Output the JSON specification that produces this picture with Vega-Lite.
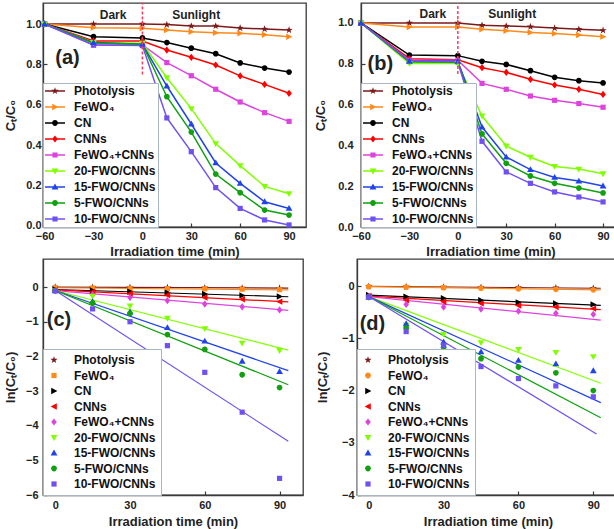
{
  "$schema": "https://vega.github.io/schema/vega-lite/v6.json",
  "padding": {"left": 3, "top": 1, "right": 0, "bottom": 0},
  "background": "white",
  "config": {
    "font": "Liberation Sans",
    "view": {"stroke": "#3a3a3a", "strokeWidth": 1.3},
    "axis": {"grid": false, "labelOverlap": false, "labelFlush": false, "labelFontSize": 11, "labelFontWeight": "bold", "labelColor": "#222", "titleFontSize": 13, "titleFontWeight": "bold", "titleColor": "#222", "domainColor": "#3a3a3a", "domainWidth": 1.3, "tickColor": "#3a3a3a", "tickSize": -4, "tickWidth": 1.2}
  },
  "datasets": {
    "a": [
      {"s":"Photolysis","t":-60,"v":1},{"s":"Photolysis","t":-30,"v":1},{"s":"Photolysis","t":0,"v":1},{"s":"Photolysis","t":15,"v":0.997},{"s":"Photolysis","t":30,"v":0.99},{"s":"Photolysis","t":45,"v":0.99},{"s":"Photolysis","t":60,"v":0.98},{"s":"Photolysis","t":75,"v":0.975},{"s":"Photolysis","t":90,"v":0.97},
      {"s":"FeWO₄","t":-60,"v":1},{"s":"FeWO₄","t":-30,"v":0.982},{"s":"FeWO₄","t":0,"v":0.979},{"s":"FeWO₄","t":15,"v":0.97},{"s":"FeWO₄","t":30,"v":0.962},{"s":"FeWO₄","t":45,"v":0.957},{"s":"FeWO₄","t":60,"v":0.954},{"s":"FeWO₄","t":75,"v":0.947},{"s":"FeWO₄","t":90,"v":0.937},
      {"s":"CN","t":-60,"v":1},{"s":"CN","t":-30,"v":0.937},{"s":"CN","t":0,"v":0.931},{"s":"CN","t":15,"v":0.908},{"s":"CN","t":30,"v":0.88},{"s":"CN","t":45,"v":0.853},{"s":"CN","t":60,"v":0.807},{"s":"CN","t":75,"v":0.782},{"s":"CN","t":90,"v":0.762},
      {"s":"CNNs","t":-60,"v":1},{"s":"CNNs","t":-30,"v":0.916},{"s":"CNNs","t":0,"v":0.916},{"s":"CNNs","t":15,"v":0.871},{"s":"CNNs","t":30,"v":0.835},{"s":"CNNs","t":45,"v":0.797},{"s":"CNNs","t":60,"v":0.743},{"s":"CNNs","t":75,"v":0.701},{"s":"CNNs","t":90,"v":0.657},
      {"s":"FeWO₄+CNNs","t":-60,"v":1},{"s":"FeWO₄+CNNs","t":-30,"v":0.896},{"s":"FeWO₄+CNNs","t":0,"v":0.896},{"s":"FeWO₄+CNNs","t":15,"v":0.809},{"s":"FeWO₄+CNNs","t":30,"v":0.744},{"s":"FeWO₄+CNNs","t":45,"v":0.677},{"s":"FeWO₄+CNNs","t":60,"v":0.614},{"s":"FeWO₄+CNNs","t":75,"v":0.561},{"s":"FeWO₄+CNNs","t":90,"v":0.518},
      {"s":"20-FWO/CNNs","t":-60,"v":1},{"s":"20-FWO/CNNs","t":-30,"v":0.909},{"s":"20-FWO/CNNs","t":0,"v":0.905},{"s":"20-FWO/CNNs","t":15,"v":0.734},{"s":"20-FWO/CNNs","t":30,"v":0.581},{"s":"20-FWO/CNNs","t":45,"v":0.408},{"s":"20-FWO/CNNs","t":60,"v":0.299},{"s":"20-FWO/CNNs","t":75,"v":0.196},{"s":"20-FWO/CNNs","t":90,"v":0.16},
      {"s":"15-FWO/CNNs","t":-60,"v":1},{"s":"15-FWO/CNNs","t":-30,"v":0.908},{"s":"15-FWO/CNNs","t":0,"v":0.9},{"s":"15-FWO/CNNs","t":15,"v":0.693},{"s":"15-FWO/CNNs","t":30,"v":0.505},{"s":"15-FWO/CNNs","t":45,"v":0.312},{"s":"15-FWO/CNNs","t":60,"v":0.211},{"s":"15-FWO/CNNs","t":75,"v":0.12},{"s":"15-FWO/CNNs","t":90,"v":0.087},
      {"s":"5-FWO/CNNs","t":-60,"v":1},{"s":"5-FWO/CNNs","t":-30,"v":0.906},{"s":"5-FWO/CNNs","t":0,"v":0.9},{"s":"5-FWO/CNNs","t":15,"v":0.64},{"s":"5-FWO/CNNs","t":30,"v":0.465},{"s":"5-FWO/CNNs","t":45,"v":0.257},{"s":"5-FWO/CNNs","t":60,"v":0.165},{"s":"5-FWO/CNNs","t":75,"v":0.079},{"s":"5-FWO/CNNs","t":90,"v":0.054},
      {"s":"10-FWO/CNNs","t":-60,"v":1},{"s":"10-FWO/CNNs","t":-30,"v":0.896},{"s":"10-FWO/CNNs","t":0,"v":0.893},{"s":"10-FWO/CNNs","t":15,"v":0.535},{"s":"10-FWO/CNNs","t":30,"v":0.368},{"s":"10-FWO/CNNs","t":45,"v":0.19},{"s":"10-FWO/CNNs","t":60,"v":0.087},{"s":"10-FWO/CNNs","t":75,"v":0.03},{"s":"10-FWO/CNNs","t":90,"v":0.005}
    ],
    "b": [
      {"s":"Photolysis","t":-60,"v":1},{"s":"Photolysis","t":-30,"v":1},{"s":"Photolysis","t":0,"v":1},{"s":"Photolysis","t":15,"v":0.989},{"s":"Photolysis","t":30,"v":0.985},{"s":"Photolysis","t":45,"v":0.982},{"s":"Photolysis","t":60,"v":0.975},{"s":"Photolysis","t":75,"v":0.969},{"s":"Photolysis","t":90,"v":0.964},
      {"s":"FeWO₄","t":-60,"v":1},{"s":"FeWO₄","t":-30,"v":0.98},{"s":"FeWO₄","t":0,"v":0.98},{"s":"FeWO₄","t":15,"v":0.969},{"s":"FeWO₄","t":30,"v":0.962},{"s":"FeWO₄","t":45,"v":0.954},{"s":"FeWO₄","t":60,"v":0.948},{"s":"FeWO₄","t":75,"v":0.941},{"s":"FeWO₄","t":90,"v":0.933},
      {"s":"CN","t":-60,"v":1},{"s":"CN","t":-30,"v":0.843},{"s":"CN","t":0,"v":0.84},{"s":"CN","t":15,"v":0.812},{"s":"CN","t":30,"v":0.797},{"s":"CN","t":45,"v":0.766},{"s":"CN","t":60,"v":0.734},{"s":"CN","t":75,"v":0.717},{"s":"CN","t":90,"v":0.706},
      {"s":"CNNs","t":-60,"v":1},{"s":"CNNs","t":-30,"v":0.825},{"s":"CNNs","t":0,"v":0.82},{"s":"CNNs","t":15,"v":0.781},{"s":"CNNs","t":30,"v":0.758},{"s":"CNNs","t":45,"v":0.724},{"s":"CNNs","t":60,"v":0.696},{"s":"CNNs","t":75,"v":0.675},{"s":"CNNs","t":90,"v":0.65},
      {"s":"FeWO₄+CNNs","t":-60,"v":1},{"s":"FeWO₄+CNNs","t":-30,"v":0.817},{"s":"FeWO₄+CNNs","t":0,"v":0.817},{"s":"FeWO₄+CNNs","t":15,"v":0.704},{"s":"FeWO₄+CNNs","t":30,"v":0.675},{"s":"FeWO₄+CNNs","t":45,"v":0.642},{"s":"FeWO₄+CNNs","t":60,"v":0.621},{"s":"FeWO₄+CNNs","t":75,"v":0.605},{"s":"FeWO₄+CNNs","t":90,"v":0.587},
      {"s":"20-FWO/CNNs","t":-60,"v":1},{"s":"20-FWO/CNNs","t":-30,"v":0.802},{"s":"20-FWO/CNNs","t":0,"v":0.802},{"s":"20-FWO/CNNs","t":15,"v":0.544},{"s":"20-FWO/CNNs","t":30,"v":0.397},{"s":"20-FWO/CNNs","t":45,"v":0.342},{"s":"20-FWO/CNNs","t":60,"v":0.297},{"s":"20-FWO/CNNs","t":75,"v":0.284},{"s":"20-FWO/CNNs","t":90,"v":0.261},
      {"s":"15-FWO/CNNs","t":-60,"v":1},{"s":"15-FWO/CNNs","t":-30,"v":0.812},{"s":"15-FWO/CNNs","t":0,"v":0.812},{"s":"15-FWO/CNNs","t":15,"v":0.49},{"s":"15-FWO/CNNs","t":30,"v":0.343},{"s":"15-FWO/CNNs","t":45,"v":0.281},{"s":"15-FWO/CNNs","t":60,"v":0.243},{"s":"15-FWO/CNNs","t":75,"v":0.225},{"s":"15-FWO/CNNs","t":90,"v":0.201},
      {"s":"5-FWO/CNNs","t":-60,"v":1},{"s":"5-FWO/CNNs","t":-30,"v":0.809},{"s":"5-FWO/CNNs","t":0,"v":0.807},{"s":"5-FWO/CNNs","t":15,"v":0.456},{"s":"5-FWO/CNNs","t":30,"v":0.312},{"s":"5-FWO/CNNs","t":45,"v":0.25},{"s":"5-FWO/CNNs","t":60,"v":0.214},{"s":"5-FWO/CNNs","t":75,"v":0.191},{"s":"5-FWO/CNNs","t":90,"v":0.167},
      {"s":"10-FWO/CNNs","t":-60,"v":1},{"s":"10-FWO/CNNs","t":-30,"v":0.814},{"s":"10-FWO/CNNs","t":0,"v":0.81},{"s":"10-FWO/CNNs","t":15,"v":0.42},{"s":"10-FWO/CNNs","t":30,"v":0.27},{"s":"10-FWO/CNNs","t":45,"v":0.214},{"s":"10-FWO/CNNs","t":60,"v":0.172},{"s":"10-FWO/CNNs","t":75,"v":0.147},{"s":"10-FWO/CNNs","t":90,"v":0.123}
    ],
    "c": [
      {"s":"Photolysis","t":0,"v":0},{"s":"Photolysis","t":15,"v":-0.005},{"s":"Photolysis","t":30,"v":-0.01},{"s":"Photolysis","t":45,"v":-0.013},{"s":"Photolysis","t":60,"v":-0.02},{"s":"Photolysis","t":75,"v":-0.025},{"s":"Photolysis","t":90,"v":-0.03},
      {"s":"FeWO₄","t":0,"v":-0.02},{"s":"FeWO₄","t":15,"v":-0.03},{"s":"FeWO₄","t":30,"v":-0.04},{"s":"FeWO₄","t":45,"v":-0.045},{"s":"FeWO₄","t":60,"v":-0.05},{"s":"FeWO₄","t":75,"v":-0.06},{"s":"FeWO₄","t":90,"v":-0.075},
      {"s":"CN","t":0,"v":-0.07},{"s":"CN","t":15,"v":-0.1},{"s":"CN","t":30,"v":-0.13},{"s":"CN","t":45,"v":-0.16},{"s":"CN","t":60,"v":-0.2},{"s":"CN","t":75,"v":-0.24},{"s":"CN","t":90,"v":-0.27},
      {"s":"CNNs","t":0,"v":-0.09},{"s":"CNNs","t":15,"v":-0.14},{"s":"CNNs","t":30,"v":-0.19},{"s":"CNNs","t":45,"v":-0.23},{"s":"CNNs","t":60,"v":-0.3},{"s":"CNNs","t":75,"v":-0.35},{"s":"CNNs","t":90,"v":-0.42},
      {"s":"FeWO₄+CNNs","t":0,"v":-0.11},{"s":"FeWO₄+CNNs","t":15,"v":-0.22},{"s":"FeWO₄+CNNs","t":30,"v":-0.3},{"s":"FeWO₄+CNNs","t":45,"v":-0.39},{"s":"FeWO₄+CNNs","t":60,"v":-0.49},{"s":"FeWO₄+CNNs","t":75,"v":-0.57},{"s":"FeWO₄+CNNs","t":90,"v":-0.66},
      {"s":"20-FWO/CNNs","t":0,"v":-0.1},{"s":"20-FWO/CNNs","t":15,"v":-0.26},{"s":"20-FWO/CNNs","t":30,"v":-0.54},{"s":"20-FWO/CNNs","t":45,"v":-0.9},{"s":"20-FWO/CNNs","t":60,"v":-1.2},{"s":"20-FWO/CNNs","t":75,"v":-1.62},{"s":"20-FWO/CNNs","t":90,"v":-1.83},
      {"s":"15-FWO/CNNs","t":0,"v":-0.1},{"s":"15-FWO/CNNs","t":15,"v":-0.42},{"s":"15-FWO/CNNs","t":30,"v":-0.72},{"s":"15-FWO/CNNs","t":45,"v":-1.17},{"s":"15-FWO/CNNs","t":60,"v":-1.56},{"s":"15-FWO/CNNs","t":75,"v":-2.14},{"s":"15-FWO/CNNs","t":90,"v":-2.44},
      {"s":"5-FWO/CNNs","t":0,"v":-0.1},{"s":"5-FWO/CNNs","t":15,"v":-0.46},{"s":"5-FWO/CNNs","t":30,"v":-0.76},{"s":"5-FWO/CNNs","t":45,"v":-1.37},{"s":"5-FWO/CNNs","t":60,"v":-1.8},{"s":"5-FWO/CNNs","t":75,"v":-2.53},{"s":"5-FWO/CNNs","t":90,"v":-2.9},
      {"s":"10-FWO/CNNs","t":0,"v":-0.11},{"s":"10-FWO/CNNs","t":15,"v":-0.63},{"s":"10-FWO/CNNs","t":30,"v":-1.0},{"s":"10-FWO/CNNs","t":45,"v":-1.69},{"s":"10-FWO/CNNs","t":60,"v":-2.46},{"s":"10-FWO/CNNs","t":75,"v":-3.61},{"s":"10-FWO/CNNs","t":90,"v":-5.52}
    ],
    "cfit": [
      {"s":"Photolysis","t":0,"v":0},{"s":"Photolysis","t":93.5,"v":-0.03},
      {"s":"FeWO₄","t":0,"v":-0.02},{"s":"FeWO₄","t":93.5,"v":-0.08},
      {"s":"CN","t":0,"v":-0.07},{"s":"CN","t":93.5,"v":-0.28},
      {"s":"CNNs","t":0,"v":-0.08},{"s":"CNNs","t":93.5,"v":-0.43},
      {"s":"FeWO₄+CNNs","t":0,"v":-0.1},{"s":"FeWO₄+CNNs","t":93.5,"v":-0.67},
      {"s":"20-FWO/CNNs","t":0,"v":-0.1},{"s":"20-FWO/CNNs","t":93.5,"v":-1.82},
      {"s":"15-FWO/CNNs","t":0,"v":-0.1},{"s":"15-FWO/CNNs","t":93.5,"v":-2.41},
      {"s":"5-FWO/CNNs","t":0,"v":-0.1},{"s":"5-FWO/CNNs","t":93.5,"v":-2.82},
      {"s":"10-FWO/CNNs","t":0,"v":-0.1},{"s":"10-FWO/CNNs","t":93.5,"v":-4.45}
    ],
    "d": [
      {"s":"Photolysis","t":0,"v":-0.005},{"s":"Photolysis","t":15,"v":-0.01},{"s":"Photolysis","t":30,"v":-0.015},{"s":"Photolysis","t":45,"v":-0.02},{"s":"Photolysis","t":60,"v":-0.025},{"s":"Photolysis","t":75,"v":-0.03},{"s":"Photolysis","t":90,"v":-0.04},
      {"s":"FeWO₄","t":0,"v":-0.01},{"s":"FeWO₄","t":15,"v":-0.02},{"s":"FeWO₄","t":30,"v":-0.03},{"s":"FeWO₄","t":45,"v":-0.04},{"s":"FeWO₄","t":60,"v":-0.05},{"s":"FeWO₄","t":75,"v":-0.06},{"s":"FeWO₄","t":90,"v":-0.07},
      {"s":"CN","t":0,"v":-0.17},{"s":"CN","t":15,"v":-0.2},{"s":"CN","t":30,"v":-0.23},{"s":"CN","t":45,"v":-0.27},{"s":"CN","t":60,"v":-0.31},{"s":"CN","t":75,"v":-0.33},{"s":"CN","t":90,"v":-0.35},
      {"s":"CNNs","t":0,"v":-0.19},{"s":"CNNs","t":15,"v":-0.27},{"s":"CNNs","t":30,"v":-0.3},{"s":"CNNs","t":45,"v":-0.33},{"s":"CNNs","t":60,"v":-0.37},{"s":"CNNs","t":75,"v":-0.4},{"s":"CNNs","t":90,"v":-0.43},
      {"s":"FeWO₄+CNNs","t":0,"v":-0.2},{"s":"FeWO₄+CNNs","t":15,"v":-0.35},{"s":"FeWO₄+CNNs","t":30,"v":-0.4},{"s":"FeWO₄+CNNs","t":45,"v":-0.44},{"s":"FeWO₄+CNNs","t":60,"v":-0.48},{"s":"FeWO₄+CNNs","t":75,"v":-0.52},{"s":"FeWO₄+CNNs","t":90,"v":-0.54},
      {"s":"20-FWO/CNNs","t":0,"v":-0.22},{"s":"20-FWO/CNNs","t":15,"v":-0.74},{"s":"20-FWO/CNNs","t":30,"v":-0.92},{"s":"20-FWO/CNNs","t":45,"v":-1.08},{"s":"20-FWO/CNNs","t":60,"v":-1.21},{"s":"20-FWO/CNNs","t":75,"v":-1.27},{"s":"20-FWO/CNNs","t":90,"v":-1.35},
      {"s":"15-FWO/CNNs","t":0,"v":-0.21},{"s":"15-FWO/CNNs","t":15,"v":-0.72},{"s":"15-FWO/CNNs","t":30,"v":-1.07},{"s":"15-FWO/CNNs","t":45,"v":-1.26},{"s":"15-FWO/CNNs","t":60,"v":-1.42},{"s":"15-FWO/CNNs","t":75,"v":-1.49},{"s":"15-FWO/CNNs","t":90,"v":-1.62},
      {"s":"5-FWO/CNNs","t":0,"v":-0.21},{"s":"5-FWO/CNNs","t":15,"v":-0.8},{"s":"5-FWO/CNNs","t":30,"v":-1.17},{"s":"5-FWO/CNNs","t":45,"v":-1.39},{"s":"5-FWO/CNNs","t":60,"v":-1.55},{"s":"5-FWO/CNNs","t":75,"v":-1.66},{"s":"5-FWO/CNNs","t":90,"v":-2.0},
      {"s":"10-FWO/CNNs","t":0,"v":-0.21},{"s":"10-FWO/CNNs","t":15,"v":-0.87},{"s":"10-FWO/CNNs","t":30,"v":-1.13},{"s":"10-FWO/CNNs","t":45,"v":-1.54},{"s":"10-FWO/CNNs","t":60,"v":-1.77},{"s":"10-FWO/CNNs","t":75,"v":-1.91},{"s":"10-FWO/CNNs","t":90,"v":-2.12}
    ],
    "dfit": [
      {"s":"Photolysis","t":0,"v":-0.005},{"s":"Photolysis","t":93,"v":-0.04},
      {"s":"FeWO₄","t":0,"v":-0.01},{"s":"FeWO₄","t":93,"v":-0.07},
      {"s":"CN","t":0,"v":-0.17},{"s":"CN","t":93,"v":-0.37},
      {"s":"CNNs","t":0,"v":-0.19},{"s":"CNNs","t":93,"v":-0.45},
      {"s":"FeWO₄+CNNs","t":0,"v":-0.2},{"s":"FeWO₄+CNNs","t":93,"v":-0.65},
      {"s":"20-FWO/CNNs","t":0,"v":-0.2},{"s":"20-FWO/CNNs","t":93,"v":-1.86},
      {"s":"15-FWO/CNNs","t":0,"v":-0.2},{"s":"15-FWO/CNNs","t":93,"v":-2.23},
      {"s":"5-FWO/CNNs","t":0,"v":-0.2},{"s":"5-FWO/CNNs","t":93,"v":-2.52},
      {"s":"10-FWO/CNNs","t":0,"v":-0.2},{"s":"10-FWO/CNNs","t":91.3,"v":-2.83}
    ]
  },
  "spacing": -7,
  "resolve": {"scale": {"color": "independent", "shape": "independent", "stroke": "independent"}, "legend": {"color": "independent", "shape": "independent", "stroke": "independent"}},
  "vconcat": [
    {
      "spacing": 7,
      "resolve": {"scale": {"color": "independent", "shape": "independent", "stroke": "independent"}, "legend": {"color": "independent", "shape": "independent", "stroke": "independent"}},
      "hconcat": [
        {
          "width": 263, "height": 224,
          "layer": [
            {
              "data": {"name": "a"},
              "encoding": {
                "x": {"field": "t", "type": "quantitative", "scale": {"domain": [-61, 100.4], "nice": false, "zero": false}, "axis": {"title": "Irradiation time (min)", "values": [-60, -30, 0, 30, 60, 90], "labelPadding": 7, "titlePadding": 4}},
                "y": {"field": "v", "type": "quantitative", "scale": {"domain": [-0.005, 1.104], "nice": false, "zero": false}, "axis": {"title": "Cₜ/C₀", "values": [0, 0.2, 0.4, 0.6, 0.8, 1], "format": ".1f", "labelPadding": 6, "titlePadding": 8}}
              },
              "layer": [
                {"transform": [{"filter": "datum.t > 1000"}], "mark": {"type": "point", "filled": true, "size": 64, "opacity": 1},
                 "encoding": {
                   "color": {"field": "s", "type": "nominal", "scale": {"domain": ["Photolysis","FeWO₄","CN","CNNs","FeWO₄+CNNs","20-FWO/CNNs","15-FWO/CNNs","5-FWO/CNNs","10-FWO/CNNs"], "range": ["#7b1a1a","#ff8a1a","#000000","#ff0000","#dd44dd","#80ff00","#2044e8","#10a010","#7050f0"]},
                     "legend": {"title": null, "orient": "bottom-left", "offset": 0, "padding": 2, "symbolSize": 64, "symbolStrokeWidth": 0, "labelOffset": 17, "rowPadding": 4, "labelFontSize": 12, "labelFontWeight": "bold", "labelColor": "#111", "labelLimit": 200, "strokeColor": "#a9b6c6", "fillColor": "white"}},
                   "shape": {"field": "s", "type": "nominal", "scale": {"domain": ["Photolysis","FeWO₄","CN","CNNs","FeWO₄+CNNs","20-FWO/CNNs","15-FWO/CNNs","5-FWO/CNNs","10-FWO/CNNs"], "range": ["M-1.5,-0.2H3.5V0.2H-1.5Z M1,-0.95L1.22,-0.3L1.9,-0.29L1.36,0.12L1.56,0.77L1,0.38L0.44,0.77L0.64,0.12L0.1,-0.29L0.78,-0.3Z","M-1.5,-0.2H3.5V0.2H-1.5Z M0.3,-0.8L1.85,0L0.3,0.8Z","M-1.5,-0.2H3.5V0.2H-1.5Z M1.72,0A0.72,0.72 0 1,1 0.28,0A0.72,0.72 0 1,1 1.72,0Z","M-1.5,-0.2H3.5V0.2H-1.5Z M1,-0.9L1.7,0L1,0.9L0.3,0Z","M-1.5,-0.2H3.5V0.2H-1.5Z M0.35,-0.65H1.65V0.65H0.35Z","M-1.5,-0.2H3.5V0.2H-1.5Z M0.15,-0.6H1.85L1,0.85Z","M-1.5,-0.2H3.5V0.2H-1.5Z M1,-0.85L1.85,0.6H0.15Z","M-1.5,-0.2H3.5V0.2H-1.5Z M1.72,0A0.72,0.72 0 1,1 0.28,0A0.72,0.72 0 1,1 1.72,0Z","M-1.5,-0.2H3.5V0.2H-1.5Z M0.35,-0.65H1.65V0.65H0.35Z"]},
                     "legend": {"title": null, "orient": "bottom-left", "offset": 0, "padding": 2, "symbolSize": 64, "symbolStrokeWidth": 0, "labelOffset": 17, "rowPadding": 4, "labelFontSize": 12, "labelFontWeight": "bold", "labelColor": "#111", "labelLimit": 200, "strokeColor": "#a9b6c6", "fillColor": "white"}}
                 }},
                {"mark": {"type": "line", "strokeWidth": 1.5},
                 "encoding": {"stroke": {"field": "s", "type": "nominal", "legend": null, "scale": {"domain": ["10-FWO/CNNs","5-FWO/CNNs","15-FWO/CNNs","20-FWO/CNNs","FeWO₄+CNNs","CNNs","CN","FeWO₄","Photolysis"], "range": ["#7050f0","#10a010","#2044e8","#80ff00","#dd44dd","#ff0000","#000000","#ff8a1a","#7b1a1a"]}}}},
                {"transform": [{"filter": {"field": "s", "oneOf": ["Photolysis"]}}], "mark": {"type": "point", "filled": true, "size": 64, "opacity": 1, "shape": "M0,-0.95L0.22,-0.3L0.9,-0.29L0.36,0.12L0.56,0.77L0,0.38L-0.56,0.77L-0.36,0.12L-0.9,-0.29L-0.22,-0.3Z"},
                 "encoding": {"color": {"field": "s", "type": "nominal", "scale": {"domain": ["Photolysis","FeWO₄","CN","CNNs","FeWO₄+CNNs","20-FWO/CNNs","15-FWO/CNNs","5-FWO/CNNs","10-FWO/CNNs"], "range": ["#7b1a1a","#ff8a1a","#000000","#ff0000","#dd44dd","#80ff00","#2044e8","#10a010","#7050f0"]}}}},
                {"transform": [{"filter": {"field": "s", "oneOf": ["FeWO₄"]}}], "mark": {"type": "point", "filled": true, "size": 64, "opacity": 1, "shape": "M-0.7,-0.8L0.85,0L-0.7,0.8Z"},
                 "encoding": {"color": {"field": "s", "type": "nominal", "scale": {"domain": ["Photolysis","FeWO₄","CN","CNNs","FeWO₄+CNNs","20-FWO/CNNs","15-FWO/CNNs","5-FWO/CNNs","10-FWO/CNNs"], "range": ["#7b1a1a","#ff8a1a","#000000","#ff0000","#dd44dd","#80ff00","#2044e8","#10a010","#7050f0"]}}}},
                {"transform": [{"filter": {"field": "s", "oneOf": ["CN", "5-FWO/CNNs"]}}], "mark": {"type": "point", "filled": true, "size": 64, "opacity": 1, "shape": "M0.72,0A0.72,0.72 0 1,1 -0.72,0A0.72,0.72 0 1,1 0.72,0Z"},
                 "encoding": {"color": {"field": "s", "type": "nominal", "scale": {"domain": ["Photolysis","FeWO₄","CN","CNNs","FeWO₄+CNNs","20-FWO/CNNs","15-FWO/CNNs","5-FWO/CNNs","10-FWO/CNNs"], "range": ["#7b1a1a","#ff8a1a","#000000","#ff0000","#dd44dd","#80ff00","#2044e8","#10a010","#7050f0"]}}}},
                {"transform": [{"filter": {"field": "s", "oneOf": ["CNNs"]}}], "mark": {"type": "point", "filled": true, "size": 64, "opacity": 1, "shape": "M0,-0.9L0.7,0L0,0.9L-0.7,0Z"},
                 "encoding": {"color": {"field": "s", "type": "nominal", "scale": {"domain": ["Photolysis","FeWO₄","CN","CNNs","FeWO₄+CNNs","20-FWO/CNNs","15-FWO/CNNs","5-FWO/CNNs","10-FWO/CNNs"], "range": ["#7b1a1a","#ff8a1a","#000000","#ff0000","#dd44dd","#80ff00","#2044e8","#10a010","#7050f0"]}}}},
                {"transform": [{"filter": {"field": "s", "oneOf": ["FeWO₄+CNNs", "10-FWO/CNNs"]}}], "mark": {"type": "point", "filled": true, "size": 64, "opacity": 1, "shape": "M-0.65,-0.65H0.65V0.65H-0.65Z"},
                 "encoding": {"color": {"field": "s", "type": "nominal", "scale": {"domain": ["Photolysis","FeWO₄","CN","CNNs","FeWO₄+CNNs","20-FWO/CNNs","15-FWO/CNNs","5-FWO/CNNs","10-FWO/CNNs"], "range": ["#7b1a1a","#ff8a1a","#000000","#ff0000","#dd44dd","#80ff00","#2044e8","#10a010","#7050f0"]}}}},
                {"transform": [{"filter": {"field": "s", "oneOf": ["20-FWO/CNNs"]}}], "mark": {"type": "point", "filled": true, "size": 64, "opacity": 1, "shape": "M-0.85,-0.6H0.85L0,0.85Z"},
                 "encoding": {"color": {"field": "s", "type": "nominal", "scale": {"domain": ["Photolysis","FeWO₄","CN","CNNs","FeWO₄+CNNs","20-FWO/CNNs","15-FWO/CNNs","5-FWO/CNNs","10-FWO/CNNs"], "range": ["#7b1a1a","#ff8a1a","#000000","#ff0000","#dd44dd","#80ff00","#2044e8","#10a010","#7050f0"]}}}},
                {"transform": [{"filter": {"field": "s", "oneOf": ["15-FWO/CNNs"]}}], "mark": {"type": "point", "filled": true, "size": 64, "opacity": 1, "shape": "M0,-0.85L0.85,0.6H-0.85Z"},
                 "encoding": {"color": {"field": "s", "type": "nominal", "scale": {"domain": ["Photolysis","FeWO₄","CN","CNNs","FeWO₄+CNNs","20-FWO/CNNs","15-FWO/CNNs","5-FWO/CNNs","10-FWO/CNNs"], "range": ["#7b1a1a","#ff8a1a","#000000","#ff0000","#dd44dd","#80ff00","#2044e8","#10a010","#7050f0"]}}}}
              ]
            },
            {"data": {"values": [{"k": 1}]}, "mark": {"type": "rule", "color": "#ff3b5c", "strokeDash": [3, 2], "strokeWidth": 1.5}, "encoding": {"x": {"datum": 0, "type": "quantitative"}, "y": {"datum": 0.75, "type": "quantitative"}, "y2": {"datum": 1.104}}},
            {"data": {"values": [{"k": 1}]}, "mark": {"type": "text", "fontSize": 20, "fontWeight": "bold", "color": "#222"}, "encoding": {"x": {"datum": -46, "type": "quantitative"}, "y": {"datum": 0.83, "type": "quantitative"}, "text": {"value": "(a)"}}},
            {"data": {"values": [{"k": 1}]}, "mark": {"type": "text", "fontSize": 12, "fontWeight": "bold", "color": "#222"}, "encoding": {"x": {"datum": -18, "type": "quantitative"}, "y": {"datum": 1.045, "type": "quantitative"}, "text": {"value": "Dark"}}},
            {"data": {"values": [{"k": 1}]}, "mark": {"type": "text", "fontSize": 12, "fontWeight": "bold", "color": "#222"}, "encoding": {"x": {"datum": 33, "type": "quantitative"}, "y": {"datum": 1.045, "type": "quantitative"}, "text": {"value": "Sunlight"}}}
          ]
        },
        {
          "width": 259, "height": 224,
          "layer": [
            {
              "data": {"name": "b"},
              "encoding": {
                "x": {"field": "t", "type": "quantitative", "scale": {"domain": [-60, 100.5], "nice": false, "zero": false}, "axis": {"title": "Irradiation time (min)", "values": [-60, -30, 0, 30, 60, 90], "labelPadding": 7, "titlePadding": 4}},
                "y": {"field": "v", "type": "quantitative", "scale": {"domain": [0, 1.098], "nice": false, "zero": false}, "axis": {"title": "Cₜ/C₀", "values": [0, 0.2, 0.4, 0.6, 0.8, 1], "format": ".1f", "labelPadding": 12, "titlePadding": 10}}
              },
              "layer": [
                {"transform": [{"filter": "datum.t > 1000"}], "mark": {"type": "point", "filled": true, "size": 64, "opacity": 1},
                 "encoding": {
                   "color": {"field": "s", "type": "nominal", "scale": {"domain": ["Photolysis","FeWO₄","CN","CNNs","FeWO₄+CNNs","20-FWO/CNNs","15-FWO/CNNs","5-FWO/CNNs","10-FWO/CNNs"], "range": ["#7b1a1a","#ff8a1a","#000000","#ff0000","#dd44dd","#80ff00","#2044e8","#10a010","#7050f0"]},
                     "legend": {"title": null, "orient": "bottom-left", "offset": 0, "padding": 2, "symbolSize": 64, "symbolStrokeWidth": 0, "labelOffset": 17, "rowPadding": 4, "labelFontSize": 12, "labelFontWeight": "bold", "labelColor": "#111", "labelLimit": 200, "strokeColor": "#a9b6c6", "fillColor": "white"}},
                   "shape": {"field": "s", "type": "nominal", "scale": {"domain": ["Photolysis","FeWO₄","CN","CNNs","FeWO₄+CNNs","20-FWO/CNNs","15-FWO/CNNs","5-FWO/CNNs","10-FWO/CNNs"], "range": ["M-1.5,-0.2H3.5V0.2H-1.5Z M1,-0.95L1.22,-0.3L1.9,-0.29L1.36,0.12L1.56,0.77L1,0.38L0.44,0.77L0.64,0.12L0.1,-0.29L0.78,-0.3Z","M-1.5,-0.2H3.5V0.2H-1.5Z M0.3,-0.8L1.85,0L0.3,0.8Z","M-1.5,-0.2H3.5V0.2H-1.5Z M1.72,0A0.72,0.72 0 1,1 0.28,0A0.72,0.72 0 1,1 1.72,0Z","M-1.5,-0.2H3.5V0.2H-1.5Z M1,-0.9L1.7,0L1,0.9L0.3,0Z","M-1.5,-0.2H3.5V0.2H-1.5Z M0.35,-0.65H1.65V0.65H0.35Z","M-1.5,-0.2H3.5V0.2H-1.5Z M0.15,-0.6H1.85L1,0.85Z","M-1.5,-0.2H3.5V0.2H-1.5Z M1,-0.85L1.85,0.6H0.15Z","M-1.5,-0.2H3.5V0.2H-1.5Z M1.72,0A0.72,0.72 0 1,1 0.28,0A0.72,0.72 0 1,1 1.72,0Z","M-1.5,-0.2H3.5V0.2H-1.5Z M0.35,-0.65H1.65V0.65H0.35Z"]},
                     "legend": {"title": null, "orient": "bottom-left", "offset": 0, "padding": 2, "symbolSize": 64, "symbolStrokeWidth": 0, "labelOffset": 17, "rowPadding": 4, "labelFontSize": 12, "labelFontWeight": "bold", "labelColor": "#111", "labelLimit": 200, "strokeColor": "#a9b6c6", "fillColor": "white"}}
                 }},
                {"mark": {"type": "line", "strokeWidth": 1.5},
                 "encoding": {"stroke": {"field": "s", "type": "nominal", "legend": null, "scale": {"domain": ["10-FWO/CNNs","5-FWO/CNNs","15-FWO/CNNs","20-FWO/CNNs","FeWO₄+CNNs","CNNs","CN","FeWO₄","Photolysis"], "range": ["#7050f0","#10a010","#2044e8","#80ff00","#dd44dd","#ff0000","#000000","#ff8a1a","#7b1a1a"]}}}},
                {"transform": [{"filter": {"field": "s", "oneOf": ["Photolysis"]}}], "mark": {"type": "point", "filled": true, "size": 64, "opacity": 1, "shape": "M0,-0.95L0.22,-0.3L0.9,-0.29L0.36,0.12L0.56,0.77L0,0.38L-0.56,0.77L-0.36,0.12L-0.9,-0.29L-0.22,-0.3Z"},
                 "encoding": {"color": {"field": "s", "type": "nominal", "scale": {"domain": ["Photolysis","FeWO₄","CN","CNNs","FeWO₄+CNNs","20-FWO/CNNs","15-FWO/CNNs","5-FWO/CNNs","10-FWO/CNNs"], "range": ["#7b1a1a","#ff8a1a","#000000","#ff0000","#dd44dd","#80ff00","#2044e8","#10a010","#7050f0"]}}}},
                {"transform": [{"filter": {"field": "s", "oneOf": ["FeWO₄"]}}], "mark": {"type": "point", "filled": true, "size": 64, "opacity": 1, "shape": "M-0.7,-0.8L0.85,0L-0.7,0.8Z"},
                 "encoding": {"color": {"field": "s", "type": "nominal", "scale": {"domain": ["Photolysis","FeWO₄","CN","CNNs","FeWO₄+CNNs","20-FWO/CNNs","15-FWO/CNNs","5-FWO/CNNs","10-FWO/CNNs"], "range": ["#7b1a1a","#ff8a1a","#000000","#ff0000","#dd44dd","#80ff00","#2044e8","#10a010","#7050f0"]}}}},
                {"transform": [{"filter": {"field": "s", "oneOf": ["CN", "5-FWO/CNNs"]}}], "mark": {"type": "point", "filled": true, "size": 64, "opacity": 1, "shape": "M0.72,0A0.72,0.72 0 1,1 -0.72,0A0.72,0.72 0 1,1 0.72,0Z"},
                 "encoding": {"color": {"field": "s", "type": "nominal", "scale": {"domain": ["Photolysis","FeWO₄","CN","CNNs","FeWO₄+CNNs","20-FWO/CNNs","15-FWO/CNNs","5-FWO/CNNs","10-FWO/CNNs"], "range": ["#7b1a1a","#ff8a1a","#000000","#ff0000","#dd44dd","#80ff00","#2044e8","#10a010","#7050f0"]}}}},
                {"transform": [{"filter": {"field": "s", "oneOf": ["CNNs"]}}], "mark": {"type": "point", "filled": true, "size": 64, "opacity": 1, "shape": "M0,-0.9L0.7,0L0,0.9L-0.7,0Z"},
                 "encoding": {"color": {"field": "s", "type": "nominal", "scale": {"domain": ["Photolysis","FeWO₄","CN","CNNs","FeWO₄+CNNs","20-FWO/CNNs","15-FWO/CNNs","5-FWO/CNNs","10-FWO/CNNs"], "range": ["#7b1a1a","#ff8a1a","#000000","#ff0000","#dd44dd","#80ff00","#2044e8","#10a010","#7050f0"]}}}},
                {"transform": [{"filter": {"field": "s", "oneOf": ["FeWO₄+CNNs", "10-FWO/CNNs"]}}], "mark": {"type": "point", "filled": true, "size": 64, "opacity": 1, "shape": "M-0.65,-0.65H0.65V0.65H-0.65Z"},
                 "encoding": {"color": {"field": "s", "type": "nominal", "scale": {"domain": ["Photolysis","FeWO₄","CN","CNNs","FeWO₄+CNNs","20-FWO/CNNs","15-FWO/CNNs","5-FWO/CNNs","10-FWO/CNNs"], "range": ["#7b1a1a","#ff8a1a","#000000","#ff0000","#dd44dd","#80ff00","#2044e8","#10a010","#7050f0"]}}}},
                {"transform": [{"filter": {"field": "s", "oneOf": ["20-FWO/CNNs"]}}], "mark": {"type": "point", "filled": true, "size": 64, "opacity": 1, "shape": "M-0.85,-0.6H0.85L0,0.85Z"},
                 "encoding": {"color": {"field": "s", "type": "nominal", "scale": {"domain": ["Photolysis","FeWO₄","CN","CNNs","FeWO₄+CNNs","20-FWO/CNNs","15-FWO/CNNs","5-FWO/CNNs","10-FWO/CNNs"], "range": ["#7b1a1a","#ff8a1a","#000000","#ff0000","#dd44dd","#80ff00","#2044e8","#10a010","#7050f0"]}}}},
                {"transform": [{"filter": {"field": "s", "oneOf": ["15-FWO/CNNs"]}}], "mark": {"type": "point", "filled": true, "size": 64, "opacity": 1, "shape": "M0,-0.85L0.85,0.6H-0.85Z"},
                 "encoding": {"color": {"field": "s", "type": "nominal", "scale": {"domain": ["Photolysis","FeWO₄","CN","CNNs","FeWO₄+CNNs","20-FWO/CNNs","15-FWO/CNNs","5-FWO/CNNs","10-FWO/CNNs"], "range": ["#7b1a1a","#ff8a1a","#000000","#ff0000","#dd44dd","#80ff00","#2044e8","#10a010","#7050f0"]}}}}
              ]
            },
            {"data": {"values": [{"k": 1}]}, "mark": {"type": "rule", "color": "#ff3b5c", "strokeDash": [3, 2], "strokeWidth": 1.5}, "encoding": {"x": {"datum": 0, "type": "quantitative"}, "y": {"datum": 0.75, "type": "quantitative"}, "y2": {"datum": 1.098}}},
            {"data": {"values": [{"k": 1}]}, "mark": {"type": "text", "fontSize": 20, "fontWeight": "bold", "color": "#222"}, "encoding": {"x": {"datum": -48, "type": "quantitative"}, "y": {"datum": 0.8, "type": "quantitative"}, "text": {"value": "(b)"}}},
            {"data": {"values": [{"k": 1}]}, "mark": {"type": "text", "fontSize": 12, "fontWeight": "bold", "color": "#222"}, "encoding": {"x": {"datum": -15.5, "type": "quantitative"}, "y": {"datum": 1.043, "type": "quantitative"}, "text": {"value": "Dark"}}},
            {"data": {"values": [{"k": 1}]}, "mark": {"type": "text", "fontSize": 12, "fontWeight": "bold", "color": "#222"}, "encoding": {"x": {"datum": 33.7, "type": "quantitative"}, "y": {"datum": 1.043, "type": "quantitative"}, "text": {"value": "Sunlight"}}}
          ]
        }
      ]
    },
    {
      "spacing": 11,
      "resolve": {"scale": {"color": "independent", "shape": "independent", "stroke": "independent"}, "legend": {"color": "independent", "shape": "independent", "stroke": "independent"}},
      "hconcat": [
        {
          "width": 260, "height": 236,
          "layer": [
            {"data": {"name": "cfit"}, "mark": {"type": "line", "strokeWidth": 1.2},
             "encoding": {
               "x": {"field": "t", "type": "quantitative", "scale": {"domain": [-4.9, 99.4], "nice": false, "zero": false}, "axis": {"title": "Irradiation time (min)", "values": [0, 30, 60, 90], "labelPadding": 8, "titlePadding": 5}},
               "y": {"field": "v", "type": "quantitative", "scale": {"domain": [-6, 0.81], "nice": false, "zero": false}, "axis": {"title": "ln(Cₜ/C₀)", "values": [-6, -5, -4, -3, -2, -1, 0], "tickCount": 7, "labelOverlap": false, "labelSeparation": 0, "labelPadding": 9, "titlePadding": 8}},
               "stroke": {"field": "s", "type": "nominal", "legend": null, "scale": {"domain": ["10-FWO/CNNs","5-FWO/CNNs","15-FWO/CNNs","20-FWO/CNNs","FeWO₄+CNNs","CNNs","CN","FeWO₄","Photolysis"], "range": ["#7050f0","#10a010","#2044e8","#80ff00","#dd44dd","#ff0000","#000000","#ff8a1a","#7b1a1a"]}}}},
            {"data": {"name": "c"}, "mark": {"type": "point", "filled": true, "size": 64, "opacity": 1},
             "encoding": {
               "x": {"field": "t", "type": "quantitative", "scale": {"domain": [-4.9, 99.4], "nice": false, "zero": false}, "axis": {"title": "Irradiation time (min)", "values": [0, 30, 60, 90], "labelPadding": 8, "titlePadding": 5}},
               "y": {"field": "v", "type": "quantitative", "scale": {"domain": [-6, 0.81], "nice": false, "zero": false}, "axis": {"title": "ln(Cₜ/C₀)", "values": [-6, -5, -4, -3, -2, -1, 0], "tickCount": 7, "labelOverlap": false, "labelSeparation": 0, "labelPadding": 9, "titlePadding": 8}},
               "color": {"field": "s", "type": "nominal", "scale": {"domain": ["Photolysis","FeWO₄","CN","CNNs","FeWO₄+CNNs","20-FWO/CNNs","15-FWO/CNNs","5-FWO/CNNs","10-FWO/CNNs"], "range": ["#7b1a1a","#ff8a1a","#000000","#ff0000","#dd44dd","#80ff00","#2044e8","#10a010","#7050f0"]},
                 "legend": {"title": null, "orient": "bottom-left", "offset": 0, "padding": 5, "symbolSize": 64, "symbolStrokeWidth": 0, "labelOffset": 14, "rowPadding": 3.5, "labelFontSize": 12, "labelFontWeight": "bold", "labelColor": "#111", "labelLimit": 200, "strokeColor": "#a9b6c6", "fillColor": "white"}},
               "shape": {"field": "s", "type": "nominal", "scale": {"domain": ["Photolysis","FeWO₄","CN","CNNs","FeWO₄+CNNs","20-FWO/CNNs","15-FWO/CNNs","5-FWO/CNNs","10-FWO/CNNs"], "range": ["M0,-0.95L0.22,-0.3L0.9,-0.29L0.36,0.12L0.56,0.77L0,0.38L-0.56,0.77L-0.36,0.12L-0.9,-0.29L-0.22,-0.3Z","M-0.65,-0.65H0.65V0.65H-0.65Z","M-0.7,-0.8L0.85,0L-0.7,0.8Z","M0.7,-0.8L0.7,0.8L-0.85,0Z","M0,-0.9L0.7,0L0,0.9L-0.7,0Z","M-0.85,-0.6H0.85L0,0.85Z","M0,-0.85L0.85,0.6H-0.85Z","M0.72,0A0.72,0.72 0 1,1 -0.72,0A0.72,0.72 0 1,1 0.72,0Z","M-0.65,-0.65H0.65V0.65H-0.65Z"]},
                 "legend": {"title": null, "orient": "bottom-left", "offset": 0, "padding": 5, "symbolSize": 64, "symbolStrokeWidth": 0, "labelOffset": 14, "rowPadding": 3.5, "labelFontSize": 12, "labelFontWeight": "bold", "labelColor": "#111", "labelLimit": 200, "strokeColor": "#a9b6c6", "fillColor": "white"}}
             }},
            {"data": {"values": [{"k": 1}]}, "mark": {"type": "text", "fontSize": 20, "fontWeight": "bold", "color": "#222"}, "encoding": {"x": {"datum": 1.5, "type": "quantitative"}, "y": {"datum": -0.95, "type": "quantitative"}, "text": {"value": "(c)"}}}
          ]
        },
        {
          "width": 262, "height": 236,
          "layer": [
            {"data": {"name": "dfit"}, "mark": {"type": "line", "strokeWidth": 1.2},
             "encoding": {
               "x": {"field": "t", "type": "quantitative", "scale": {"domain": [-4.7, 100.3], "nice": false, "zero": false}, "axis": {"title": "Irradiation time (min)", "values": [0, 30, 60, 90], "labelPadding": 8, "titlePadding": 5}},
               "y": {"field": "v", "type": "quantitative", "scale": {"domain": [-4, 0.52], "nice": false, "zero": false}, "axis": {"title": "ln(Cₜ/C₀)", "values": [-4, -3, -2, -1, 0], "labelPadding": 7, "titlePadding": 12}},
               "stroke": {"field": "s", "type": "nominal", "legend": null, "scale": {"domain": ["10-FWO/CNNs","5-FWO/CNNs","15-FWO/CNNs","20-FWO/CNNs","FeWO₄+CNNs","CNNs","CN","FeWO₄","Photolysis"], "range": ["#7050f0","#10a010","#2044e8","#80ff00","#dd44dd","#ff0000","#000000","#ff8a1a","#7b1a1a"]}}}},
            {"data": {"name": "d"}, "mark": {"type": "point", "filled": true, "size": 64, "opacity": 1},
             "encoding": {
               "x": {"field": "t", "type": "quantitative", "scale": {"domain": [-4.7, 100.3], "nice": false, "zero": false}, "axis": {"title": "Irradiation time (min)", "values": [0, 30, 60, 90], "labelPadding": 8, "titlePadding": 5}},
               "y": {"field": "v", "type": "quantitative", "scale": {"domain": [-4, 0.52], "nice": false, "zero": false}, "axis": {"title": "ln(Cₜ/C₀)", "values": [-4, -3, -2, -1, 0], "labelPadding": 7, "titlePadding": 12}},
               "color": {"field": "s", "type": "nominal", "scale": {"domain": ["Photolysis","FeWO₄","CN","CNNs","FeWO₄+CNNs","20-FWO/CNNs","15-FWO/CNNs","5-FWO/CNNs","10-FWO/CNNs"], "range": ["#7b1a1a","#ff8a1a","#000000","#ff0000","#dd44dd","#80ff00","#2044e8","#10a010","#7050f0"]},
                 "legend": {"title": null, "orient": "bottom-left", "offset": 0, "padding": 5, "symbolSize": 64, "symbolStrokeWidth": 0, "labelOffset": 14, "rowPadding": 3.5, "labelFontSize": 12, "labelFontWeight": "bold", "labelColor": "#111", "labelLimit": 200, "strokeColor": "#a9b6c6", "fillColor": "white"}},
               "shape": {"field": "s", "type": "nominal", "scale": {"domain": ["Photolysis","FeWO₄","CN","CNNs","FeWO₄+CNNs","20-FWO/CNNs","15-FWO/CNNs","5-FWO/CNNs","10-FWO/CNNs"], "range": ["M0,-0.95L0.22,-0.3L0.9,-0.29L0.36,0.12L0.56,0.77L0,0.38L-0.56,0.77L-0.36,0.12L-0.9,-0.29L-0.22,-0.3Z","M0.72,0A0.72,0.72 0 1,1 -0.72,0A0.72,0.72 0 1,1 0.72,0Z","M-0.7,-0.8L0.85,0L-0.7,0.8Z","M0.7,-0.8L0.7,0.8L-0.85,0Z","M0,-0.9L0.7,0L0,0.9L-0.7,0Z","M-0.85,-0.6H0.85L0,0.85Z","M0,-0.85L0.85,0.6H-0.85Z","M0.72,0A0.72,0.72 0 1,1 -0.72,0A0.72,0.72 0 1,1 0.72,0Z","M-0.65,-0.65H0.65V0.65H-0.65Z"]},
                 "legend": {"title": null, "orient": "bottom-left", "offset": 0, "padding": 5, "symbolSize": 64, "symbolStrokeWidth": 0, "labelOffset": 14, "rowPadding": 3.5, "labelFontSize": 12, "labelFontWeight": "bold", "labelColor": "#111", "labelLimit": 200, "strokeColor": "#a9b6c6", "fillColor": "white"}}
             }},
            {"data": {"values": [{"k": 1}]}, "mark": {"type": "text", "fontSize": 20, "fontWeight": "bold", "color": "#222"}, "encoding": {"x": {"datum": 1.5, "type": "quantitative"}, "y": {"datum": -0.72, "type": "quantitative"}, "text": {"value": "(d)"}}}
          ]
        }
      ]
    }
  ]
}
